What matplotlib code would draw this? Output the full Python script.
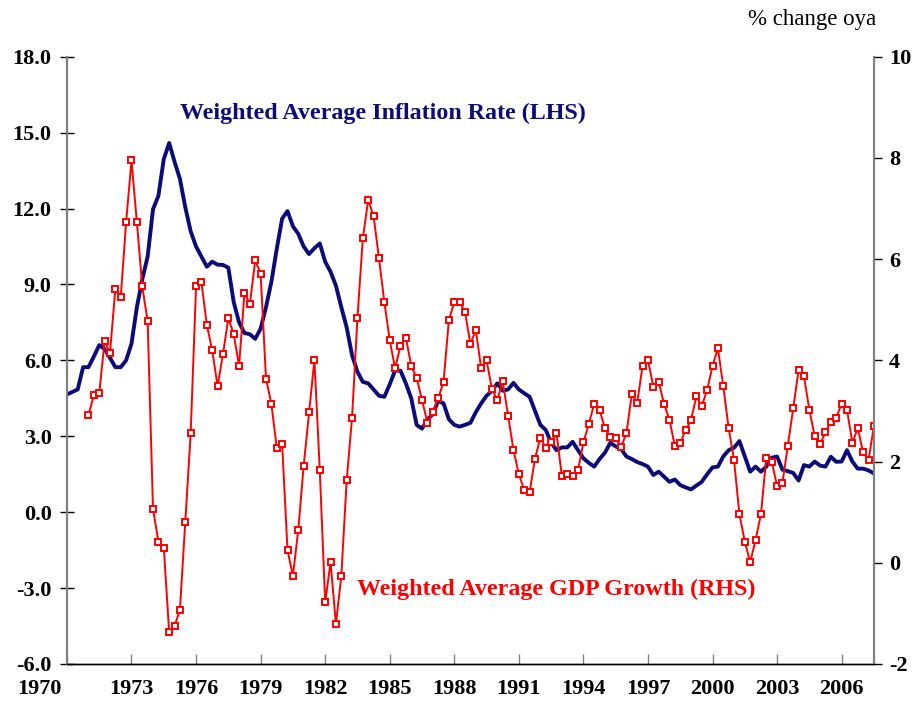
import matplotlib.pyplot as plt
import matplotlib.transforms as mtransforms
import numpy as np

# quarterly, 1970Q1 - 2007Q3
start_year = 1970
inflation = [
    4.65, 4.75, 4.85, 5.73, 5.73, 6.15, 6.6, 6.45, 6.1, 5.73,
    5.73, 6.0, 6.66, 8.1, 9.2, 10.1, 11.97, 12.5, 13.95, 14.59,
    13.85, 13.17, 12.05, 11.1, 10.5, 10.1, 9.7, 9.9, 9.78, 9.77,
    9.66, 8.3, 7.5, 7.08, 7.03, 6.85, 7.25, 8.1, 9.1, 10.4,
    11.6, 11.9, 11.3, 11.0, 10.5, 10.2, 10.43, 10.62, 9.9, 9.5,
    8.95, 8.1, 7.3, 6.2, 5.55, 5.15, 5.09, 4.85, 4.6, 4.56,
    5.05, 5.6, 5.59, 5.09, 4.5, 3.45, 3.3, 3.66, 3.87, 4.4,
    4.3, 3.67, 3.45, 3.38, 3.45, 3.53, 3.95, 4.3, 4.6, 4.8,
    5.09, 4.8, 4.85, 5.11, 4.85, 4.7, 4.56, 4.0, 3.45, 3.25,
    2.75, 2.45, 2.56, 2.56, 2.78, 2.45, 2.13, 1.95, 1.8, 2.1,
    2.35, 2.74, 2.6, 2.5, 2.2, 2.1, 1.98, 1.9, 1.8, 1.47,
    1.6, 1.4, 1.2, 1.29, 1.07, 0.98, 0.9, 1.05, 1.2, 1.5,
    1.77, 1.8, 2.2, 2.45, 2.55, 2.81, 2.2, 1.6, 1.8, 1.6,
    1.8, 2.15, 2.2, 1.68, 1.62, 1.55, 1.25, 1.86, 1.8, 2.0,
    1.84, 1.8, 2.19, 1.99, 2.0, 2.45, 2.0, 1.72, 1.72, 1.65,
    1.53,
]

# GDP growth starts 1971Q1
gdp_start = 4
gdp_growth = [
    2.92, 3.31, 3.35, 4.38, 4.15, 5.41, 5.25, 6.73, 7.95, 6.73,
    5.46, 4.77, 1.06, 0.42, 0.30, -1.37, -1.25, -0.93, 0.81, 2.56,
    5.46, 5.54, 4.70,
    4.20, 3.49, 4.12, 4.83, 4.52, 3.89, 5.34, 5.11, 5.98, 5.71,
    3.64, 3.14, 2.27, 2.35, 0.25, -0.26, 0.65, 1.91, 2.97, 4.01,
    1.83, -0.78, 0.01, -1.21, -0.26, 1.63,
    2.87, 4.84, 6.41, 7.17, 6.85, 6.02, 5.15, 4.40, 3.84, 4.29,
    4.45, 3.89, 3.65, 3.22, 2.77, 2.97, 3.25, 3.57, 4.80, 5.15,
    5.15, 4.95, 4.32, 4.60, 3.84, 4.0,
    3.43, 3.22, 3.59, 2.91, 2.23, 1.75, 1.44, 1.39, 2.06, 2.47,
    2.27, 2.39, 2.56, 1.71, 1.75, 1.71, 1.83, 2.38, 2.74, 3.14,
    3.02, 2.66, 2.48, 2.46, 2.29, 2.56, 3.33, 3.16, 3.89, 4.01,
    3.48, 3.57, 3.14, 2.82,
    2.31, 2.37, 2.62, 2.82, 3.29, 3.10, 3.41, 3.89, 4.24, 3.49,
    2.66, 2.03, 0.96, 0.42, 0.01, 0.45, 0.96, 2.08, 2.00, 1.52,
    1.58, 2.31, 3.05, 3.81, 3.69, 3.02, 2.50, 2.34, 2.58, 2.79,
    2.87, 3.14, 3.02, 2.37, 2.66, 2.18, 2.03, 2.70,
]

year_ticks = list(range(1970, 2007, 3))
left_ticks = [-6.0, -3.0, 0.0, 3.0, 6.0, 9.0, 12.0, 15.0, 18.0]
right_ticks = [-2, 0, 2, 4, 6, 8, 10]

x_inf = start_year + np.arange(len(inflation)) / 4
x_gdp = start_year + (gdp_start + np.arange(len(gdp_growth))) / 4

plt.rcParams['font.family'] = ['Liberation Serif', 'DejaVu Serif']

navy = '#0c0c78'
red = '#ff0000'
grey = '#808080'

fig = plt.figure(figsize=(9.17, 7.06), dpi=100)
ax = fig.add_axes([0.073, 0.0595, 0.880, 0.8602])
ax2 = ax.twinx()

ax.plot(x_inf, inflation, color=navy, linewidth=2.8, solid_joinstyle='round', zorder=3)
ax2.plot(x_gdp, gdp_growth, color=red, linewidth=1.4, marker='s', markersize=5,
         markerfacecolor='white', markeredgecolor=red, markeredgewidth=1.4)

ax.set_xlim(start_year, start_year + (len(inflation) - 1) / 4)
ax.set_ylim(-6, 18)
ax2.set_ylim(-2, 10)

ax.set_yticks(left_ticks)
ax.set_yticklabels(['%.1f' % v for v in left_ticks])
ax2.set_yticks(right_ticks)
ax2.set_yticklabels([str(v) for v in right_ticks])
ax.set_xticks(year_ticks)
ax.set_xticklabels([str(y) for y in year_ticks])

for a in (ax, ax2):
    a.spines['top'].set_visible(False)
    a.spines['left'].set_color(grey)
    a.spines['right'].set_color(grey)
    a.spines['left'].set_linewidth(1.5)
    a.spines['right'].set_linewidth(1.5)
    a.spines['bottom'].set_color('black')
    a.spines['bottom'].set_linewidth(1.0)

ax.tick_params(axis='y', direction='inout', length=10, width=1, labelsize=16, pad=6)
ax.tick_params(axis='x', direction='in', length=7, width=1, color=grey, labelsize=16, pad=11)
ax2.tick_params(axis='y', direction='out', length=6, width=1, labelsize=16, pad=5)
for lab in ax.get_xticklabels() + ax.get_yticklabels() + ax2.get_yticklabels():
    lab.set_fontweight('bold')

# first year label sits left of the axis
first = ax.get_xticklabels()[0]
first.set_horizontalalignment('right')
first.set_transform(first.get_transform() +
                    mtransforms.ScaledTranslation(-4 / 72, 0, fig.dpi_scale_trans))

ax.text(0.140, 0.907, 'Weighted Average Inflation Rate (LHS)', transform=ax.transAxes,
        color=navy, fontsize=17.3, fontweight='bold', ha='left', va='center')
ax.text(0.360, 0.122, 'Weighted Average GDP Growth (RHS)', transform=ax.transAxes,
        color=red, fontsize=17.3, fontweight='bold', ha='left', va='center')
fig.text(0.816, 0.972, '% change oya', fontsize=16.5, ha='left', va='center')

fig.savefig('out.png', dpi=100)
